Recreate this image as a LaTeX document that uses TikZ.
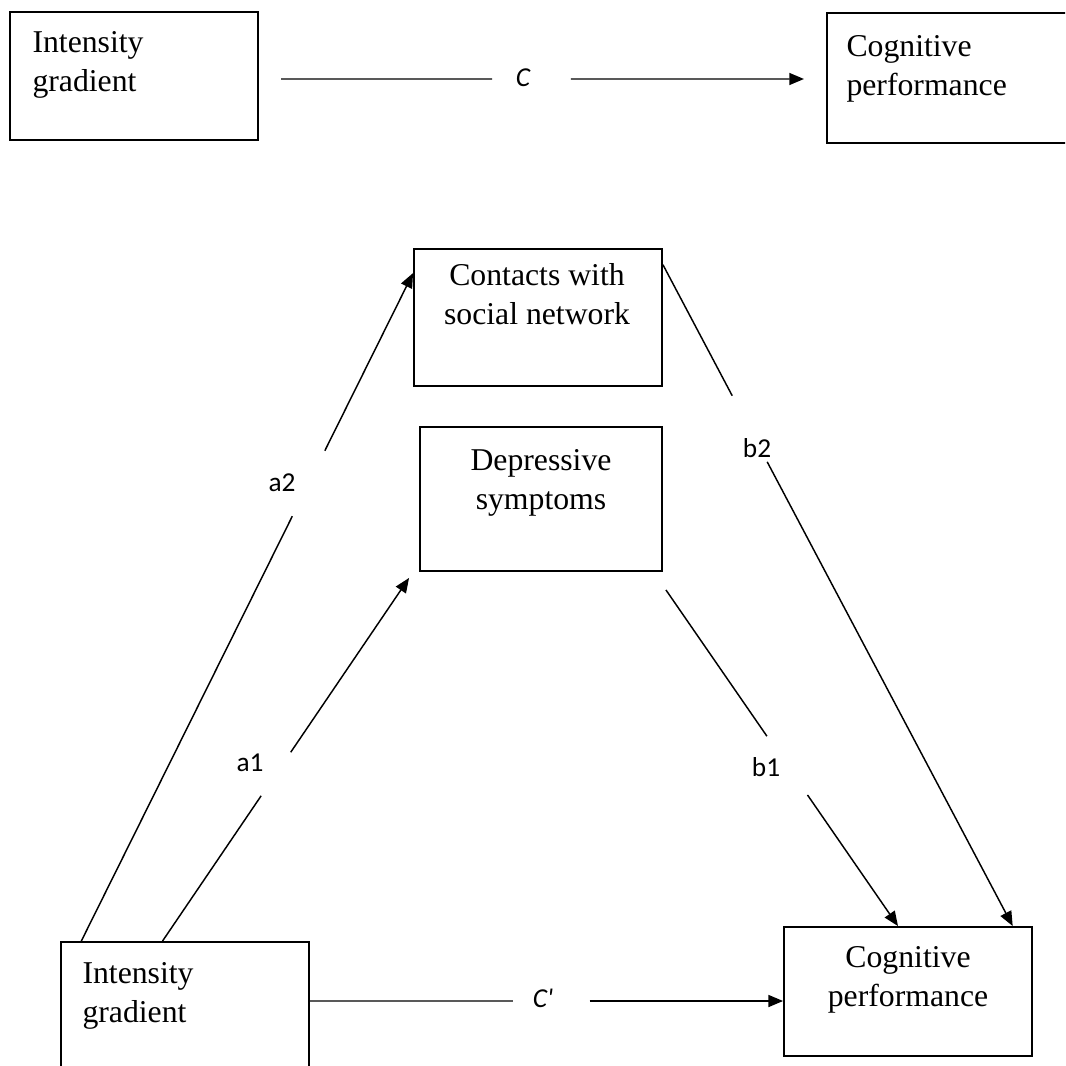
\documentclass[tikz,border=0pt]{standalone}
\usepackage{fontspec}
\setmainfont{Liberation Serif}
\newfontfamily\lblfont{Carlito}
\usetikzlibrary{arrows.meta,calc}

\tikzset{every picture/.style={line width=0.75pt}}
\tikzset{
	varbox/.style={draw, line width=1.4pt, inner sep=0pt, minimum width=186pt},
	boxtext/.style={inner sep=0pt, font=\fontsize{23.8}{29.25}\selectfont},
	pathlbl/.style={inner sep=0pt, font=\lblfont\fontsize{20.5}{24}\selectfont},
	effect/.style={line width=1.1pt, -{Triangle[length=11pt,width=9pt]}},
	seg/.style={line width=1.1pt}}

\begin{document}
\begin{tikzpicture}[x=0.75pt,y=0.75pt,yscale=-1,xscale=1]
	\clip (0,0) rectangle (1065,1066);

	%Shape: Rectangle [total effect, left]
	\node[varbox, minimum height=96pt] (ig1) at (134,76) {};
	%Shape: Rectangle [total effect, right]
	\node[varbox, minimum height=97.5pt] (cp1) at (951,78) {};
	%Shape: Rectangle [mediator 2]
	\node[varbox, minimum height=102.75pt] (csn) at (538,317.5) {};
	%Shape: Rectangle [mediator 1]
	\node[varbox, minimum width=181.5pt, minimum height=108pt] (dep) at (541,499) {};
	%Shape: Rectangle [mediation, left]
	\node[varbox, minimum height=96.75pt] (ig2) at (185,1006.5) {};
	%Shape: Rectangle [mediation, right]
	\node[varbox, minimum height=96.75pt] (cp2) at (908,991.5) {};

	% Text Node
	\node[boxtext, anchor=north west, align=left] (ig1txt) at (32,31) {Intensity\\gradient};
	% Text Node
	\node[boxtext, anchor=north west, align=left] (cp1txt) at (846,35) {Cognitive\\performance};
	% Text Node
	\node[boxtext, anchor=north, align=center] (csntxt) at (537,263) {Contacts with\\social network};
	% Text Node
	\node[boxtext, anchor=north, align=center] (deptxt) at (541,449) {Depressive\\symptoms};
	% Text Node
	\node[boxtext, anchor=north west, align=left] (ig2txt) at (82,962) {Intensity\\gradient};
	% Text Node
	\node[boxtext, anchor=north, align=center] (cp2txt) at (908,946) {Cognitive\\performance};

	%Straight Lines [c]
	\coordinate (cin) at ($(cp1.west)+(0,1)$);
	\coordinate (cout) at (ig1.east |- cin);
	\draw[seg] ($(cout)!0.039!(cin)$) -- ($(cout)!0.411!(cin)$);
	\draw[effect] ($(cout)!0.55!(cin)$) -- ($(cout)!0.961!(cin)$);
	%Straight Lines [c']
	\coordinate (cpin) at ($(cp2.west)+(0,9.5)$);
	\coordinate (cpout) at (ig2.east |- cpin);
	\draw[seg] (cpout) -- ($(cpout)!0.429!(cpin)$);
	\draw[effect] ($(cpout)!0.591!(cpin)$) -- (cpin);

	%Straight Lines [a2]
	\coordinate (a2s) at ($(ig2.north west)!0.085!(ig2.north east)$);
	\coordinate (a2e) at ($(csn.north west)!0.18!(csn.south west)$);
	\draw[seg] (a2s) -- ($(a2s)!0.636!(a2e)$);
	\draw[effect] ($(a2s)!0.734!(a2e)$) -- (a2e);
	%Straight Lines [a1]
	\coordinate (a1s) at ($(ig2.north west)!0.41!(ig2.north east)$);
	\coordinate (a1e) at ($(dep.south west)+(-10,6)$);
	\draw[seg] (a1s) -- ($(a1s)!0.40!(a1e)$);
	\draw[effect] ($(a1s)!0.52!(a1e)$) -- (a1e);
	%Straight Lines [b1]
	\coordinate (b1s) at ($(dep.south east)+(3,18)$);
	\coordinate (b1e) at ($(cp2.north west)!0.46!(cp2.north east)$);
	\draw[seg] (b1s) -- ($(b1s)!0.435!(b1e)$);
	\draw[effect] ($(b1s)!0.61!(b1e)$) -- (b1e);
	%Straight Lines [b2]
	\coordinate (b2s) at ($(csn.north east)!0.12!(csn.south east)$);
	\coordinate (b2e) at ($(cp2.north west)!0.919!(cp2.north east)$);
	\draw[seg] (b2s) -- ($(b2s)!0.198!(b2e)$);
	\draw[effect] ($(b2s)!0.298!(b2e)$) -- (b2e);

	% Text Node
	\node[pathlbl] (lc) at (523,78) {\itshape C};
	% Text Node
	\node[pathlbl] (lcp) at (543,998) {\itshape C'};
	% Text Node
	\node[pathlbl] (la2) at (282,483) {a2};
	% Text Node
	\node[pathlbl] (lb2) at (757,448) {b2};
	% Text Node
	\node[pathlbl] (la1) at (250,763) {a1};
	% Text Node
	\node[pathlbl] (lb1) at (766,767) {b1};

\end{tikzpicture}
\end{document}
